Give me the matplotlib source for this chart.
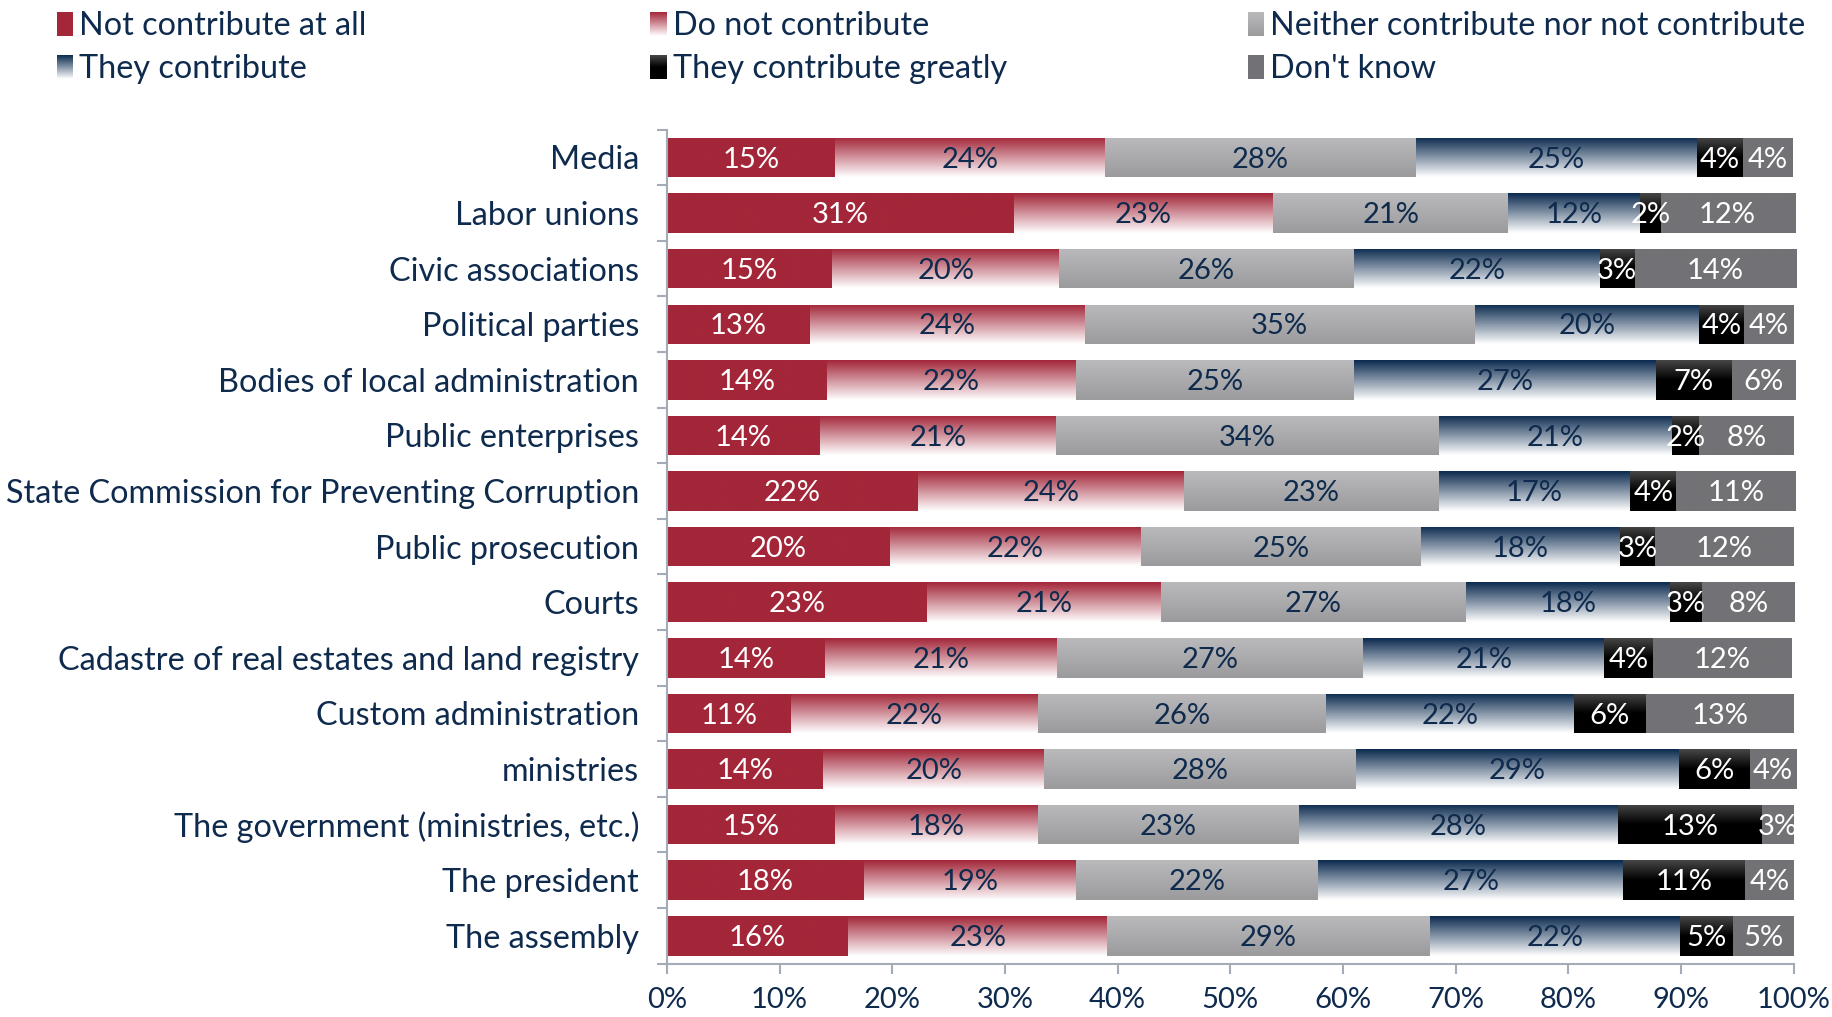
import numpy as np
import matplotlib
matplotlib.use('Agg')
import matplotlib.pyplot as plt
from matplotlib.colors import LinearSegmentedColormap
from matplotlib.legend_handler import HandlerBase
from matplotlib.patches import Rectangle

# ---- data (percent) ----
categories = ["Media", "Labor unions", "Civic associations", "Political parties",
              "Bodies of local administration", "Public enterprises",
              "State Commission for Preventing Corruption", "Public prosecution",
              "Courts", "Cadastre of real estates and land registry",
              "Custom administration", "ministries",
              "The government (ministries, etc.)", "The president", "The assembly"]

not_at_all = [14.9, 30.8, 14.7, 12.7, 14.2, 13.6, 22.3, 19.8, 23.1, 14.0, 11.0, 13.9, 14.9, 17.5, 16.1]
do_not = [24.0, 23.0, 20.1, 24.4, 22.1, 20.9, 23.6, 22.3, 20.8, 20.6, 21.9, 19.6, 18.0, 18.8, 23.0]
neither = [27.6, 20.9, 26.2, 34.6, 24.7, 34.0, 22.6, 24.8, 27.0, 27.2, 25.6, 27.7, 23.2, 21.5, 28.6]
contribute = [24.9, 11.7, 21.8, 19.9, 26.8, 20.7, 17.0, 17.7, 18.1, 21.4, 22.0, 28.6, 28.3, 27.1, 22.2]
greatly = [4.1, 1.8, 3.1, 4.0, 6.7, 2.4, 4.1, 3.1, 2.9, 4.3, 6.4, 6.3, 12.8, 10.8, 4.7]
dont_know = [4.4, 11.9, 14.3, 4.4, 5.6, 8.4, 10.6, 12.3, 8.2, 12.3, 13.1, 4.1, 2.8, 4.3, 5.4]

series_names = ["Not contribute at all", "Do not contribute",
                "Neither contribute nor not contribute", "They contribute",
                "They contribute greatly", "Don't know"]

# ---- styling ----
NAVY = '#0E2A4D'
AXIS_GREY = '#A3ABB6'
FONT = ['Lato', 'DejaVu Sans']
FS_LABEL = 23.3   # category labels + legend
FS_NUM = 21       # values in bars + x ticks

# gradient stops: (position from bottom 0 -> top 1, colour)
styles = [
    {'stops': [(0, '#A32639'), (1, '#A32639')], 'txt': 'white'},
    {'stops': [(0, '#FFFFFF'), (1, '#A32639')], 'txt': NAVY},
    {'stops': [(0, '#9B9B9D'), (1, '#BABABC')], 'txt': NAVY},
    {'stops': [(0, '#FFFFFF'), (1, '#0B2A4F')], 'txt': NAVY},
    {'stops': [(0, '#000000'), (0.5, '#000000'), (1, '#474747')], 'txt': 'white'},
    {'stops': [(0, '#727276'), (1, '#727276')], 'txt': 'white'},
]
for s in styles:
    s['cmap'] = LinearSegmentedColormap.from_list('g', s['stops'])

plt.rcParams['font.family'] = FONT

fig = plt.figure(figsize=(18.32, 10.17), dpi=100)
ax = fig.add_axes([0.364, 0.0525, 0.615, 0.82])

data = [not_at_all, do_not, neither, contribute, greatly, dont_know]
n = len(categories)
y = np.arange(n)[::-1]
h = 0.71
grad = np.linspace(0, 1, 256).reshape(-1, 1)

left = np.zeros(n)
for vals, st in zip(data, styles):
    vals = np.array(vals)
    bars = ax.barh(y, vals, left=left, height=h, color='none', edgecolor='none', zorder=2)
    for b, v, yy, l0 in zip(bars, vals, y, left):
        im = ax.imshow(grad, cmap=st['cmap'], vmin=0, vmax=1, origin='lower', aspect='auto',
                       extent=(l0, l0 + v, yy - h / 2, yy + h / 2), zorder=2,
                       interpolation='bilinear')
        im.set_clip_path(b)
        ax.text(l0 + v / 2, yy - 0.04, '%.0f%%' % v, ha='center', va='center',
                color=st['txt'], fontsize=FS_NUM, zorder=3)
    left += vals

ax.set_xlim(0, 100)
ax.set_ylim(-0.5, n - 0.5)

# axes styling
for sp in ['top', 'right']:
    ax.spines[sp].set_visible(False)
for sp in ['left', 'bottom']:
    ax.spines[sp].set_color(AXIS_GREY)
    ax.spines[sp].set_linewidth(1.5)

ax.set_xticks(np.arange(0, 101, 10))
ax.set_xticklabels(['%d%%' % t for t in range(0, 101, 10)])
ax.tick_params(axis='x', direction='out', length=7, width=1.5, color=AXIS_GREY,
               labelcolor=NAVY, labelsize=FS_NUM, pad=10)
ax.set_yticks(y)
ax.set_yticklabels(categories)
ax.tick_params(axis='y', which='major', length=0, labelcolor=NAVY, labelsize=FS_LABEL, pad=20)
ax.set_yticks(np.arange(-0.5, n, 1.0), minor=True)
ax.tick_params(axis='y', which='minor', direction='out', length=7, width=1.5, color=AXIS_GREY)


# ---- legend with gradient swatches ----
class GradKey:
    def __init__(self, cmap):
        self.cmap = cmap


class GradHandler(HandlerBase):
    def create_artists(self, legend, orig_handle, xdescent, ydescent, width, height,
                       fontsize, trans):
        steps = 24
        x0 = -xdescent
        y0 = -ydescent
        arts = []
        for i in range(steps):
            c = orig_handle.cmap((i + 0.5) / steps)
            r = Rectangle((x0, y0 + height * i / steps), width, height / steps + 0.3,
                          facecolor=c, edgecolor='none', transform=trans)
            arts.append(r)
        return arts


keys = [GradKey(s['cmap']) for s in styles]
col_x = [0.031, 0.355, 0.681]
for c in range(3):
    idx = [c, c + 3]
    fig.legend([keys[i] for i in idx], [series_names[i] for i in idx],
               handler_map={GradKey: GradHandler()},
               loc='upper left', bbox_to_anchor=(col_x[c], 0.989),
               frameon=False, fontsize=FS_LABEL, labelcolor=NAVY,
               handlelength=0.5, handleheight=0.75, handletextpad=0.2,
               labelspacing=0.40, borderaxespad=0.0, borderpad=0.0)

fig.savefig('out.png', dpi=100)
